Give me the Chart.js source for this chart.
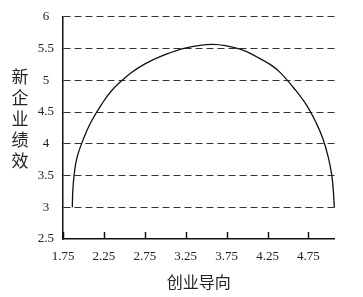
<!DOCTYPE html>
<html>
<head>
<meta charset="utf-8">
<script src="https://cdn.jsdelivr.net/npm/chart.js@4"></script>
<style>
  html, body { margin: 0; padding: 0; background: #fff; }
  #wrap { width: 363px; height: 297px; position: relative; }
</style>
</head>
<body>
<div id="wrap"><canvas id="c"></canvas></div>
<script>
// 刻度
const xTicks = [1.75, 2.25, 2.75, 3.25, 3.75, 4.25, 4.75];
const yTicks = [2.5, 3, 3.5, 4, 4.5, 5, 5.5, 6];

// 曲线
const curveX = [1.864, 1.87, 1.887, 1.921, 2.0, 2.086, 2.208, 2.349, 2.575, 2.752, 2.96, 3.241, 3.584,
                3.914, 4.122, 4.281, 4.403, 4.586, 4.729, 4.843, 4.925, 4.993, 5.035, 5.054, 5.067];
const curveY = [3.0, 3.266, 3.516, 3.781, 4.078, 4.328, 4.594, 4.844, 5.109, 5.258, 5.383, 5.508, 5.567,
                5.492, 5.367, 5.25, 5.125, 4.855, 4.605, 4.333, 4.086, 3.786, 3.511, 3.266, 3.0];

const xTitle = "创业导向";
const yTitle = "新企业绩效";

const numFont = "'Liberation Serif', 'Noto Sans CJK SC', serif";
const cjkFont = "'Noto Sans CJK SC', sans-serif";

// 竖排的 y 轴标题 + 向内的 x 轴刻度线
const extras = {
  id: "extras",
  afterDraw(chart) {
    const { ctx, chartArea, scales } = chart;
    ctx.save();
    ctx.strokeStyle = "#111";
    ctx.lineWidth = 1.5;
    for (const v of xTicks) {
      const px = Math.round(scales.x.getPixelForValue(v)) + 0.5;
      ctx.beginPath();
      ctx.moveTo(px, chartArea.bottom);
      ctx.lineTo(px, chartArea.bottom - 7);
      ctx.stroke();
    }
    ctx.fillStyle = "#222";
    ctx.font = "17px " + cjkFont;
    ctx.textAlign = "center";
    ctx.textBaseline = "middle";
    const chars = Array.from(yTitle);
    chars.forEach((ch, i) => {
      ctx.fillText(ch, 20, 77 + i * 21);
    });
    ctx.restore();
  },
};

new Chart(document.getElementById("c"), {
  type: "scatter",
  data: {
    datasets: [
      {
        data: curveX.map((x, i) => ({ x, y: curveY[i] })),
        showLine: true,
        borderColor: "#111",
        borderWidth: 1.3,
        pointRadius: 0,
        tension: 0.4,
        clip: false,
      },
    ],
  },
  options: {
    responsive: true,
    maintainAspectRatio: false,
    animation: false,
    layout: { padding: { left: 0, right: 28.4, top: 8, bottom: 2 } },
    plugins: { legend: { display: false }, tooltip: { enabled: false } },
    scales: {
      x: {
        type: "linear",
        min: 1.75,
        max: 5.07,
        afterBuildTicks: (s) => {
          s.ticks = xTicks.map((v) => ({ value: v }));
        },
        afterFit: (s) => {
          s.height = 56;
        },
        grid: { display: false, drawTicks: false },
        border: { display: true, color: "#111", width: 1.5 },
        ticks: {
          color: "#222",
          font: { family: numFont, size: 13 },
          padding: 10,
          maxRotation: 0,
          autoSkip: false,
          callback: (v) => String(v),
        },
        title: {
          display: true,
          text: xTitle,
          color: "#222",
          font: { family: cjkFont, size: 16 },
          padding: { top: 0, bottom: 3.4 },
        },
      },
      y: {
        type: "linear",
        min: 2.5,
        max: 6,
        afterBuildTicks: (s) => {
          s.ticks = yTicks.map((v) => ({ value: v }));
        },
        afterFit: (s) => {
          s.width = 63;
        },
        grid: {
          drawTicks: false,
          color: (c) => (c.tick && c.tick.value === 2.5 ? "rgba(0,0,0,0)" : "#333"),
          lineWidth: 1,
        },
        border: { display: true, color: "#111", width: 1.5, dash: [7, 4] },
        ticks: {
          color: "#222",
          font: { family: numFont, size: 13 },
          padding: 9,
          crossAlign: "center",
          callback: (v) => String(v),
        },
      },
    },
  },
  plugins: [extras],
});
</script>
</body>
</html>
